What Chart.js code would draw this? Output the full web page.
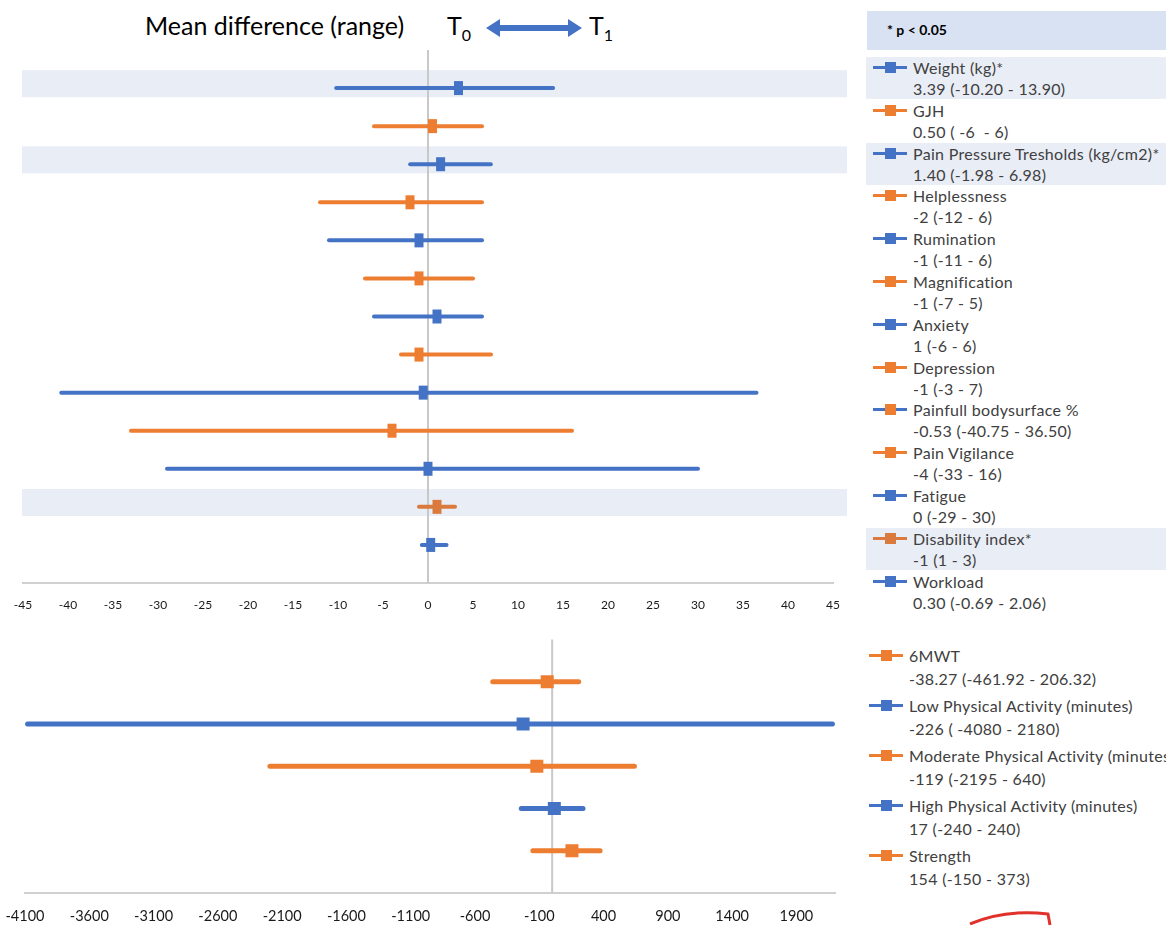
<!DOCTYPE html>
<html>
<head>
<meta charset="utf-8">
<script src="https://cdn.jsdelivr.net/npm/chart.js@4.4.1/dist/chart.umd.min.js"></script>
<style>
  body { margin: 0; width: 1166px; height: 925px; overflow: hidden; background: #fff; position: relative; font-family: Lato, "Open Sans", sans-serif; }
  canvas { position: absolute; left: 0; }
  #topChart { top: 0; }
  #botChart { top: 620px; }
  .title { position: absolute; top: 8px; font-size: 25px; color: #000; white-space: nowrap; line-height: 34px; }
  .title sub { font-size: 16px; vertical-align: -6px; }
  .head { position: absolute; left: 867px; top: 11px; width: 299px; height: 39px; background: #D9E2F3; }
  .head span { position: absolute; left: 20px; top: 10px; font-size: 14px; font-weight: bold; color: #000; }
  .entry { position: absolute; width: 310px; color: #404040; font-size: 16px; letter-spacing: 0.3px; white-space: pre; }
  .entry .t { position: absolute; line-height: 21px; }
  .entry .ln { position: absolute; height: 3px; }
  .entry .sq { position: absolute; width: 11px; height: 11px; }
</style>
</head>
<body>
<div class="title" style="left:145px">Mean difference (range)</div>
<div class="title" style="left:447px">T<sub>0</sub></div>
<div class="title" style="left:589px">T<sub>1</sub></div>
<svg style="position:absolute;left:484px;top:16px" width="102" height="24">
  <polygon points="2,12 16,3 16,9 84,9 84,3 98,12 84,21 84,15 16,15 16,21" fill="#4472C4"/>
</svg>
<div class="head"><span>* p &lt; 0.05</span></div>
<canvas id="topChart" width="860" height="625"></canvas>
<canvas id="botChart" width="860" height="305"></canvas>
<div id="legend"></div>
<svg style="position:absolute;left:960px;top:905px" width="100" height="20">
  <path d="M10,19 Q45,4 88,9 L90,20" fill="none" stroke="#E0312B" stroke-width="3"/>
</svg>
<script>
// upper panel: questionnaires / body measures
const topNames = ['Weight (kg)*', 'GJH', 'Pain Pressure Tresholds (kg/cm2)*', 'Helplessness', 'Rumination',
  'Magnification', 'Anxiety', 'Depression', 'Painfull bodysurface %', 'Pain Vigilance', 'Fatigue',
  'Disability index*', 'Workload'];
const topSummaries = ['3.39 (-10.20 - 13.90)', '0.50 ( -6  - 6)', '1.40 (-1.98 - 6.98)', '-2 (-12 - 6)',
  '-1 (-11 - 6)', '-1 (-7 - 5)', '1 (-6 - 6)', '-1 (-3 - 7)', '-0.53 (-40.75 - 36.50)', '-4 (-33 - 16)',
  '0 (-29 - 30)', '-1 (1 - 3)', '0.30 (-0.69 - 2.06)'];
const topMeans = [3.39, 0.5, 1.4, -2, -1, -1, 1, -1, -0.53, -4, 0, 1, 0.3];
const topLows = [-10.2, -6, -1.98, -12, -11, -7, -6, -3, -40.75, -33, -29, -1, -0.69];
const topHighs = [13.9, 6, 6.98, 6, 6, 5, 6, 7, 36.5, 16, 30, 3, 2.06];
const topTicks = [-45, -40, -35, -30, -25, -20, -15, -10, -5, 0, 5, 10, 15, 20, 25, 30, 35, 40, 45];
const topSignificant = [0, 2, 11];

// lower panel: physical activity
const botNames = ['6MWT', 'Low Physical Activity (minutes)', 'Moderate Physical Activity (minutes)',
  'High Physical Activity (minutes)', 'Strength'];
const botSummaries = ['-38.27 (-461.92 - 206.32)', '-226 ( -4080 - 2180)', '-119 (-2195 - 640)',
  '17 (-240 - 240)', '154 (-150 - 373)'];
const botMeans = [-38.27, -226, -119, 17, 154];
const botLows = [-461.92, -4080, -2195, -240, -150];
const botHighs = [206.32, 2180, 640, 240, 373];
const botTicks = [-4100, -3600, -3100, -2600, -2100, -1600, -1100, -600, -100, 400, 900, 1400, 1900];

const BLUE = '#4472C4', ORANGE = '#ED7D31', DARK_ORANGE = '#DA7A3E';
const topColors = [BLUE, ORANGE, BLUE, ORANGE, BLUE, ORANGE, BLUE, ORANGE, BLUE, ORANGE, BLUE, DARK_ORANGE, BLUE];
const topLegendMarks = topColors.map((c, i) => i === 8 ? ORANGE : c);
const botColors = [ORANGE, BLUE, ORANGE, BLUE, ORANGE];

const BAND = '#E9EDF6';

// shaded rows behind significant results
const bandPlugin = {
  id: 'bands',
  beforeDraw(chart, args, opts) {
    if (!opts.rows) return;
    const { ctx } = chart;
    const x = chart.scales.x, y = chart.scales.y;
    ctx.save();
    ctx.fillStyle = BAND;
    opts.rows.forEach(r => {
      const y0 = y.getPixelForValue(r - 0.47), y1 = y.getPixelForValue(r + 0.24);
      const x0 = chart.chartArea.left - 1, x1 = x.getPixelForValue(x.max) + 14;
      ctx.fillRect(x0, y0, x1 - x0, y1 - y0);
    });
    ctx.restore();
  }
};

// grey vertical reference line at zero
const zeroPlugin = {
  id: 'zero',
  beforeDatasetsDraw(chart) {
    const { ctx, chartArea } = chart;
    const px = chart.scales.x.getPixelForValue(0);
    ctx.save();
    ctx.strokeStyle = '#C8C8C8';
    ctx.lineWidth = 2;
    ctx.beginPath();
    ctx.moveTo(px, chartArea.top);
    ctx.lineTo(px, chartArea.bottom);
    ctx.stroke();
    ctx.restore();
  }
};

function makeDatasets(means, lows, highs, colors, markSize, lineW) {
  const sets = [{
    type: 'scatter',
    data: means.map((m, i) => ({ x: m, y: i })),
    pointStyle: 'line',
    rotation: 90,
    radius: markSize[1] / 2,
    hoverRadius: markSize[1] / 2,
    borderWidth: markSize[0],
    pointBorderColor: colors,
    pointBackgroundColor: colors,
    order: 0
  }];
  means.forEach((m, i) => {
    sets.push({
      type: 'line',
      data: [{ x: lows[i], y: i }, { x: highs[i], y: i }],
      borderColor: colors[i],
      borderWidth: lineW,
      borderCapStyle: 'round',
      pointRadius: 0,
      order: 1
    });
  });
  return sets;
}

function makeChart(id, cfg) {
  return new Chart(document.getElementById(id), {
    type: 'scatter',
    data: { datasets: makeDatasets(cfg.means, cfg.lows, cfg.highs, cfg.colors, cfg.mark, cfg.lineW) },
    options: {
      responsive: false,
      animation: false,
      layout: { padding: cfg.padding },
      plugins: { legend: { display: false }, tooltip: { enabled: false }, bands: { rows: cfg.bands } },
      scales: {
        x: {
          type: 'linear',
          min: cfg.ticks[0],
          max: cfg.max,
          afterBuildTicks: s => { s.ticks = cfg.ticks.map(v => ({ value: v })); },
          afterFit: s => { s.height = cfg.axisH; },
          // label gap done with tickLength so it does not widen the side padding
          grid: { display: false, drawTicks: true, tickLength: cfg.tickPad },
          border: { display: true, color: '#D0D0D0', width: 2 },
          ticks: {
            padding: 0,
            color: '#1a1a1a',
            maxRotation: 0,
            autoSkip: false,
            font: { family: 'Lato', size: cfg.tickSize },
            callback: v => String(v)
          }
        },
        y: {
          type: 'linear',
          reverse: true,
          min: -1,
          max: cfg.means.length,
          display: false
        }
      }
    },
    plugins: [bandPlugin, zeroPlugin]
  });
}

makeChart('topChart', {
  means: topMeans, lows: topLows, highs: topHighs, colors: topColors,
  ticks: topTicks, max: 45, bands: topSignificant,
  mark: [9, 14], lineW: 4,
  padding: { left: 23, right: 27, top: 50, bottom: 2 },
  axisH: 40, tickPad: 15, tickSize: 12
});

makeChart('botChart', {
  means: botMeans, lows: botLows, highs: botHighs, colors: botColors,
  ticks: botTicks, max: 2200, bands: null,
  mark: [13, 13], lineW: 5,
  padding: { left: 25, right: 25, top: 17, bottom: 0 },
  axisH: 32, tickPad: 15, tickSize: 14.5
});

// legend (built from the same arrays)
const legend = document.getElementById('legend');
function addEntry(top, left, textLeft, lineGap, name, summary, lineColor, markColor, shaded) {
  const e = document.createElement('div');
  e.className = 'entry';
  e.style.top = top + 'px';
  e.style.left = left + 'px';
  e.style.height = (lineGap * 2) + 'px';
  if (shaded) e.style.background = BAND;
  const c = 10.5;
  e.innerHTML =
    '<div class="ln" style="left:' + (textLeft - left - 40) + 'px;width:34px;top:' + (c - 1.5) + 'px;background:' + lineColor + '"></div>' +
    '<div class="sq" style="left:' + (textLeft - left - 28.5) + 'px;top:' + (c - 5.5) + 'px;background:' + markColor + '"></div>' +
    '<div class="t" style="left:' + (textLeft - left) + 'px;top:0">' + name + '</div>' +
    '<div class="t" style="left:' + (textLeft - left) + 'px;top:' + lineGap + 'px">' + summary + '</div>';
  legend.appendChild(e);
}
topNames.forEach((n, i) => {
  addEntry(57 + 42.8 * i, 866, 913, 21, n, topSummaries[i], topColors[i], topLegendMarks[i], topSignificant.includes(i));
});
botNames.forEach((n, i) => {
  addEntry(644.5 + 50.2 * i, 860, 909, 23, n, botSummaries[i], botColors[i], botColors[i], false);
});
</script>
</body>
</html>
